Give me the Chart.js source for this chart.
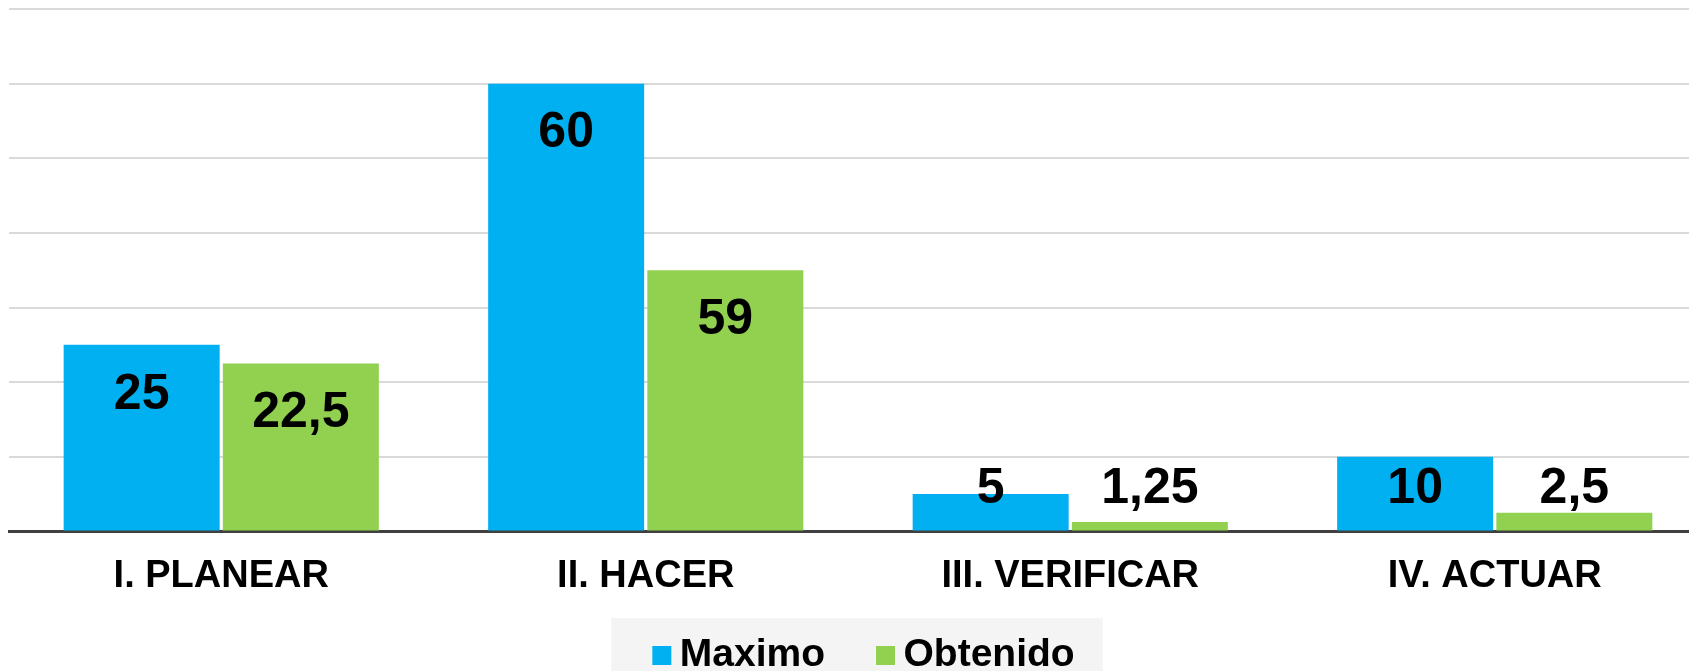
<!DOCTYPE html>
<html>
<head>
<meta charset="utf-8">
<script src="https://cdn.jsdelivr.net/npm/chart.js@4"></script>
<style>
  html, body { margin: 0; padding: 0; background: #fff; overflow: hidden; }
  #wrap { position: absolute; left: 0; top: 0; width: 1716px; height: 671px; }
</style>
</head>
<body>
<div id="wrap"><canvas id="myChart"></canvas></div>
<script>
const categories = ['I. PLANEAR', 'II. HACER', 'III. VERIFICAR', 'IV. ACTUAR'];
const maximoValues = [25, 60, 5, 10];
const obtenidoValues = [22.5, 35, 1.25, 2.5];
// the text printed on the bars (the 2nd green one says 59 though the bar is lower)
const maximoText = ['25', '60', '5', '10'];
const obtenidoText = ['22,5', '59', '1,25', '2,5'];
const yTicks = [0, 10, 20, 30, 40, 50, 60, 70];

const BLUE = '#00B0F0';
const GREEN = '#92D050';
const FONT = '"Liberation Sans", Arial, sans-serif';

// labels on the bars, pushed up when the bar is too short
const barText = {
  id: 'barText',
  afterDatasetsDraw(chart) {
    const ctx = chart.ctx;
    const texts = [maximoText, obtenidoText];
    ctx.save();
    ctx.font = 'bold 50px ' + FONT;
    ctx.fillStyle = '#000';
    ctx.textAlign = 'center';
    ctx.textBaseline = 'middle';
    chart.data.datasets.forEach((ds, i) => {
      chart.getDatasetMeta(i).data.forEach((bar, j) => {
        const y = Math.min(bar.y + 50, bar.base - 41);
        ctx.fillText(texts[i][j], bar.x, y);
      });
    });
    ctx.restore();
  }
};

// grey panel behind the legend + the legend squares sat closer to the text
const legendBack = {
  id: 'legendBack',
  beforeDraw(chart) {
    const boxes = chart.legend && chart.legend.legendHitBoxes;
    if (!boxes || !boxes.length) return;
    const left = Math.min(...boxes.map(b => b.left)) - 30;
    const right = Math.max(...boxes.map(b => b.left + b.width)) + 28;
    const ctx = chart.ctx;
    ctx.save();
    ctx.fillStyle = '#f4f4f4';
    ctx.fillRect(left, 618, right - left, chart.height - 618);
    ctx.restore();
  },
  afterDraw(chart) {
    const boxes = chart.legend && chart.legend.legendHitBoxes;
    if (!boxes) return;
    const ctx = chart.ctx;
    ctx.save();
    boxes.forEach((b, i) => {
      ctx.fillStyle = chart.data.datasets[i].backgroundColor;
      ctx.fillRect(b.left + 11, b.top + (b.height - 19) / 2, 19, 19);
    });
    ctx.restore();
  }
};

const data = {
  labels: categories,
  datasets: [{
    label: 'Maximo',
    data: maximoValues,
    backgroundColor: BLUE,
    categoryPercentage: 0.75,
    barPercentage: 0.98
  }, {
    label: 'Obtenido',
    data: obtenidoValues,
    backgroundColor: GREEN,
    categoryPercentage: 0.75,
    barPercentage: 0.98
  }]
};

const config = {
  type: 'bar',
  data,
  options: {
    responsive: true,
    maintainAspectRatio: false,
    animation: false,
    layout: { padding: { top: 9, left: 9, right: 9, bottom: -14 } },
    plugins: {
      legend: {
        position: 'bottom',
        labels: {
          boxWidth: 19,
          boxHeight: 19,
          padding: 40,
          color: '#000',
          font: { family: FONT, size: 39, weight: 'bold' },
          generateLabels(chart) {
            const items = Chart.defaults.plugins.legend.labels.generateLabels(chart);
            items.forEach(it => {
              it.fillStyle = 'rgba(0,0,0,0)';
              it.strokeStyle = 'rgba(0,0,0,0)';
              it.lineWidth = 0;
            });
            return items;
          }
        }
      },
      tooltip: { enabled: false }
    },
    scales: {
      x: {
        afterFit(scale) { scale.height -= 25; },
        grid: { color: 'rgba(0,0,0,0)', drawTicks: false },
        border: { display: true, color: '#404040', width: 3 },
        ticks: {
          padding: 22,
          color: '#000',
          font: { family: FONT, size: 38, weight: 'bold' }
        }
      },
      y: {
        min: 0,
        max: 70,
        afterBuildTicks(scale) { scale.ticks = yTicks.map(v => ({ value: v })); },
        grid: { color: '#d9d9d9', lineWidth: 2, drawTicks: false },
        border: { display: false },
        ticks: { display: false }
      }
    }
  },
  plugins: [barText, legendBack]
};

const myChart = new Chart(document.getElementById('myChart'), config);
</script>
</body>
</html>
